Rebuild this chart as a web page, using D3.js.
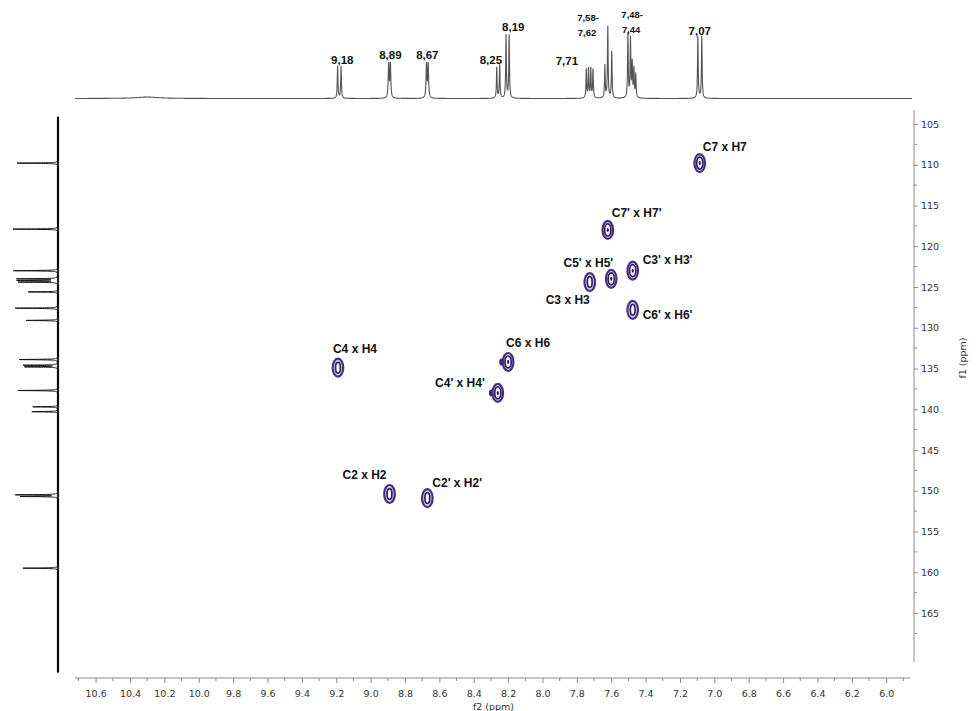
<!DOCTYPE html>
<html>
<head>
<meta charset="utf-8">
<script src="https://cdn.jsdelivr.net/npm/d3@7"></script>
<style>
  body { margin: 0; background: #fff; }
  svg { display: block; }
  .ax text { font-family: "DejaVu Sans", Verdana, sans-serif; font-size: 9.5px; fill: #333; }
  .ax path, .ax line { stroke: #8a8a8a; }
  .peaklab { font-family: "Liberation Sans", Arial, sans-serif; font-weight: bold; fill: #111; }
  .crosslab { font-family: "Liberation Sans", Arial, sans-serif; font-weight: bold; font-size: 12px; fill: #111; }
</style>
</head>
<body>
<svg width="978" height="711"></svg>
<script>
const width = 978;
const height = 711;

// 1H spectrum (f2): line positions (ppm), relative heights, line widths
const hShifts  = [10.30, 9.192, 9.172, 8.895, 8.885, 8.675, 8.665, 8.266, 8.249, 8.212, 8.194,
                  7.745, 7.732, 7.719, 7.706, 7.637, 7.620, 7.597,
                  7.503, 7.488, 7.478, 7.468, 7.457, 7.096, 7.073];
const hHeights = [0.02, 0.45, 0.45, 0.47, 0.47, 0.47, 0.47, 0.43, 0.46, 0.88, 0.88,
                  0.40, 0.41, 0.41, 0.40, 0.45, 1.00, 0.65,
                  0.90, 0.82, 0.48, 0.40, 0.32, 0.86, 0.86];
const hWidths  = [0.08, 0.0024, 0.0024, 0.003, 0.003, 0.003, 0.003, 0.0024, 0.0024, 0.0024, 0.0024,
                  0.0024, 0.0024, 0.0024, 0.0024, 0.0024, 0.0024, 0.0024,
                  0.0024, 0.0024, 0.0024, 0.0024, 0.0024, 0.0024, 0.0024];

// 1H labels: text, ppm where the label sits, height level (same units as hHeights)
const hLabelText  = ["9,18", "8,89", "8,67", "8,25", "8,19", "7,71", "7,58-", "7,62", "7,48-", "7,44", "7,07"];
const hLabelPpm   = [9.165, 8.885, 8.670, 8.300, 8.170, 7.858, 7.735, 7.741, 7.478, 7.484, 7.085];
const hLabelLevel = [0.483, 0.552, 0.552, 0.483, 0.944, 0.469, 1.077, 0.881, 1.119, 0.923, 0.888];
const hLabelSmall = [false, false, false, false, false, false, true, true, true, true, false];

// 13C spectrum (f1): line positions (ppm) and relative heights
const cShifts  = [109.8, 117.9, 123.0, 124.0, 124.2, 124.4, 125.6, 127.6, 129.1,
                  133.9, 134.6, 134.8, 137.7, 139.7, 140.3, 150.5, 150.7, 159.5];
const cHeights = [0.91, 1.00, 0.99, 0.90, 0.88, 0.86, 0.66, 0.95, 0.71,
                  0.86, 0.76, 0.73, 0.89, 0.56, 0.58, 0.93, 0.82, 0.78];

// HSQC cross peaks
const crossNames    = ["C7 x H7", "C7' x H7'", "C5' x H5'", "C3 x H3", "C3' x H3'", "C6' x H6'",
                       "C4 x H4", "C6 x H6", "C4' x H4'", "C2 x H2", "C2' x H2'"];
const crossF2       = [7.085, 7.620, 7.600, 7.725, 7.475, 7.475, 9.190, 8.200, 8.260, 8.890, 8.670];
const crossF1       = [109.8, 118.0, 124.0, 124.4, 123.0, 127.8, 134.9, 134.2, 138.0, 150.4, 150.9];
const crossLevels   = [3, 3, 3, 2, 3, 2, 2, 3, 3, 2, 2];
const crossShoulder = [false, false, false, false, false, false, false, true, true, false, false];

// axis ticks
const f2Major = [10.6, 10.4, 10.2, 10.0, 9.8, 9.6, 9.4, 9.2, 9.0, 8.8, 8.6, 8.4, 8.2, 8.0,
                 7.8, 7.6, 7.4, 7.2, 7.0, 6.8, 6.6, 6.4, 6.2, 6.0];
const f2Minor = [10.7, 10.5, 10.3, 10.1, 9.9, 9.7, 9.5, 9.3, 9.1, 8.9, 8.7, 8.5, 8.3, 8.1,
                 7.9, 7.7, 7.5, 7.3, 7.1, 6.9, 6.7, 6.5, 6.3, 6.1, 5.9];
const f1Major = [105, 110, 115, 120, 125, 130, 135, 140, 145, 150, 155, 160, 165];
const f1Minor = [107.5, 112.5, 117.5, 122.5, 127.5, 132.5, 137.5, 142.5, 147.5, 152.5, 157.5, 162.5, 167.5];

// label placement (layout only): anchor, dx, dy relative to the cross peak centre
const crossLabelPos = [
  ["start", 3, -12], ["start", 4, -13], ["end", 2, -12], ["end", 0, 22],
  ["start", 10, -7], ["start", 10, 9], ["start", -5, -15], ["start", -2, -15],
  ["end", -13, -6], ["end", -3, -15], ["start", 5, -11]
];

const svg = d3.select("svg");

// scales
const x = d3.scaleLinear().domain([10.72, 5.85]).range([75, 912]);
const y = d3.scaleLinear().domain([105, 165]).range([124, 613]);
const hY = d3.scaleLinear().domain([0, 1]).range([98.5, 27]);
const cX = d3.scaleLinear().domain([0, 1]).range([58, 13]);

// ---- top 1H trace ----
function lorentz(p, shifts, heights, widths) {
  let s = 0;
  for (let i = 0; i < shifts.length; i++) {
    const d = p - shifts[i];
    const w = widths[i];
    s += heights[i] * w * w / (d * d + w * w);
  }
  return s;
}

const hPts = [];
for (let p = 10.72; p >= 5.85; p -= 0.0004) {
  hPts.push([p, lorentz(p, hShifts, hHeights, hWidths)]);
}
svg.append("path")
  .attr("d", d3.line().x(d => x(d[0])).y(d => hY(d[1]))(hPts))
  .attr("fill", "none")
  .attr("stroke", "#555")
  .attr("stroke-width", 1.1);

svg.selectAll("text.peaklab")
  .data(hLabelText)
  .enter()
  .append("text")
  .attr("class", "peaklab")
  .attr("x", (d, i) => x(hLabelPpm[i]))
  .attr("y", (d, i) => hY(hLabelLevel[i]))
  .attr("text-anchor", "middle")
  .style("font-size", (d, i) => hLabelSmall[i] ? "9.5px" : "11.5px")
  .text(d => d);

// ---- left 13C trace ----
const cW = cShifts.map(() => 0.03);
const cPts = [];
for (let p = 104.1; p <= 172.3; p += 0.005) {
  cPts.push([p, lorentz(p, cShifts, cHeights, cW)]);
}
svg.append("line")
  .attr("x1", cX(0)).attr("x2", cX(0))
  .attr("y1", y(104.1)).attr("y2", y(172.3))
  .attr("stroke", "#222")
  .attr("stroke-width", 2.2);
svg.append("path")
  .attr("d", d3.line().x(d => cX(d[1])).y(d => y(d[0]))(cPts))
  .attr("fill", "none")
  .attr("stroke", "#111")
  .attr("stroke-width", 1);

// ---- axes ----
const xAxisY = 678;
const gx = svg.append("g").attr("class", "ax").attr("transform", `translate(0,${xAxisY})`);
gx.call(d3.axisBottom(x).tickValues(f2Major).tickSize(5).tickPadding(7).tickFormat(d3.format(".1f")).tickSizeOuter(0));
gx.select(".domain").attr("d", `M${x.range()[0]},0H${x.range()[1] - 2}`);
gx.selectAll("line.minor")
  .data(f2Minor)
  .enter()
  .append("line")
  .attr("class", "minor")
  .attr("x1", d => x(d)).attr("x2", d => x(d))
  .attr("y1", 0).attr("y2", 3)
  .attr("stroke", "#8a8a8a");

const yAxisX = 914;
const gy = svg.append("g").attr("class", "ax").attr("transform", `translate(${yAxisX},0)`);
gy.call(d3.axisRight(y).tickValues(f1Major).tickSize(4).tickPadding(3).tickSizeOuter(0));
gy.select(".domain").attr("d", `M0,${y(103.3)}V${y(171)}`);
gy.selectAll("line.minor")
  .data(f1Minor)
  .enter()
  .append("line")
  .attr("class", "minor")
  .attr("x1", 0).attr("x2", 3)
  .attr("y1", d => y(d)).attr("y2", d => y(d))
  .attr("stroke", "#8a8a8a");

svg.append("text")
  .attr("x", (x.range()[0] + x.range()[1]) / 2)
  .attr("y", 710)
  .attr("text-anchor", "middle")
  .style("font-family", "DejaVu Sans, Verdana, sans-serif")
  .style("font-size", "9.5px")
  .style("fill", "#333")
  .text("f2 (ppm)");

svg.append("text")
  .attr("transform", "translate(966,358) rotate(-90)")
  .attr("text-anchor", "middle")
  .style("font-family", "DejaVu Sans, Verdana, sans-serif")
  .style("font-size", "9.5px")
  .style("fill", "#333")
  .text("f1 (ppm)");

// ---- HSQC contours ----
const cross = svg.selectAll("g.cross")
  .data(crossNames)
  .enter()
  .append("g")
  .attr("class", "cross")
  .attr("transform", (d, i) => `translate(${x(crossF2[i])},${y(crossF1[i])})`);

cross.filter((d, i) => crossShoulder[i])
  .append("ellipse")
  .attr("cx", -6.5).attr("cy", 0)
  .attr("rx", 2.4).attr("ry", 3.4)
  .attr("fill", "#3b2477");

cross.append("ellipse")
  .attr("rx", 5.3).attr("ry", 9)
  .attr("fill", "#d9d1ea")
  .attr("stroke", "#45307f")
  .attr("stroke-width", 2.2);

cross.append("ellipse")
  .attr("rx", (d, i) => crossLevels[i] === 3 ? 3.1 : 2.4)
  .attr("ry", (d, i) => crossLevels[i] === 3 ? 6 : 5.4)
  .attr("fill", "#fff")
  .attr("stroke", "#2f1c66")
  .attr("stroke-width", 1.7);

cross.filter((d, i) => crossLevels[i] === 3)
  .append("ellipse")
  .attr("rx", 1.1).attr("ry", 2)
  .attr("fill", "#24114f");

svg.selectAll("text.crosslab")
  .data(crossNames)
  .enter()
  .append("text")
  .attr("class", "crosslab")
  .attr("x", (d, i) => x(crossF2[i]) + crossLabelPos[i][1])
  .attr("y", (d, i) => y(crossF1[i]) + crossLabelPos[i][2])
  .attr("text-anchor", (d, i) => crossLabelPos[i][0])
  .text(d => d);
</script>
</body>
</html>
